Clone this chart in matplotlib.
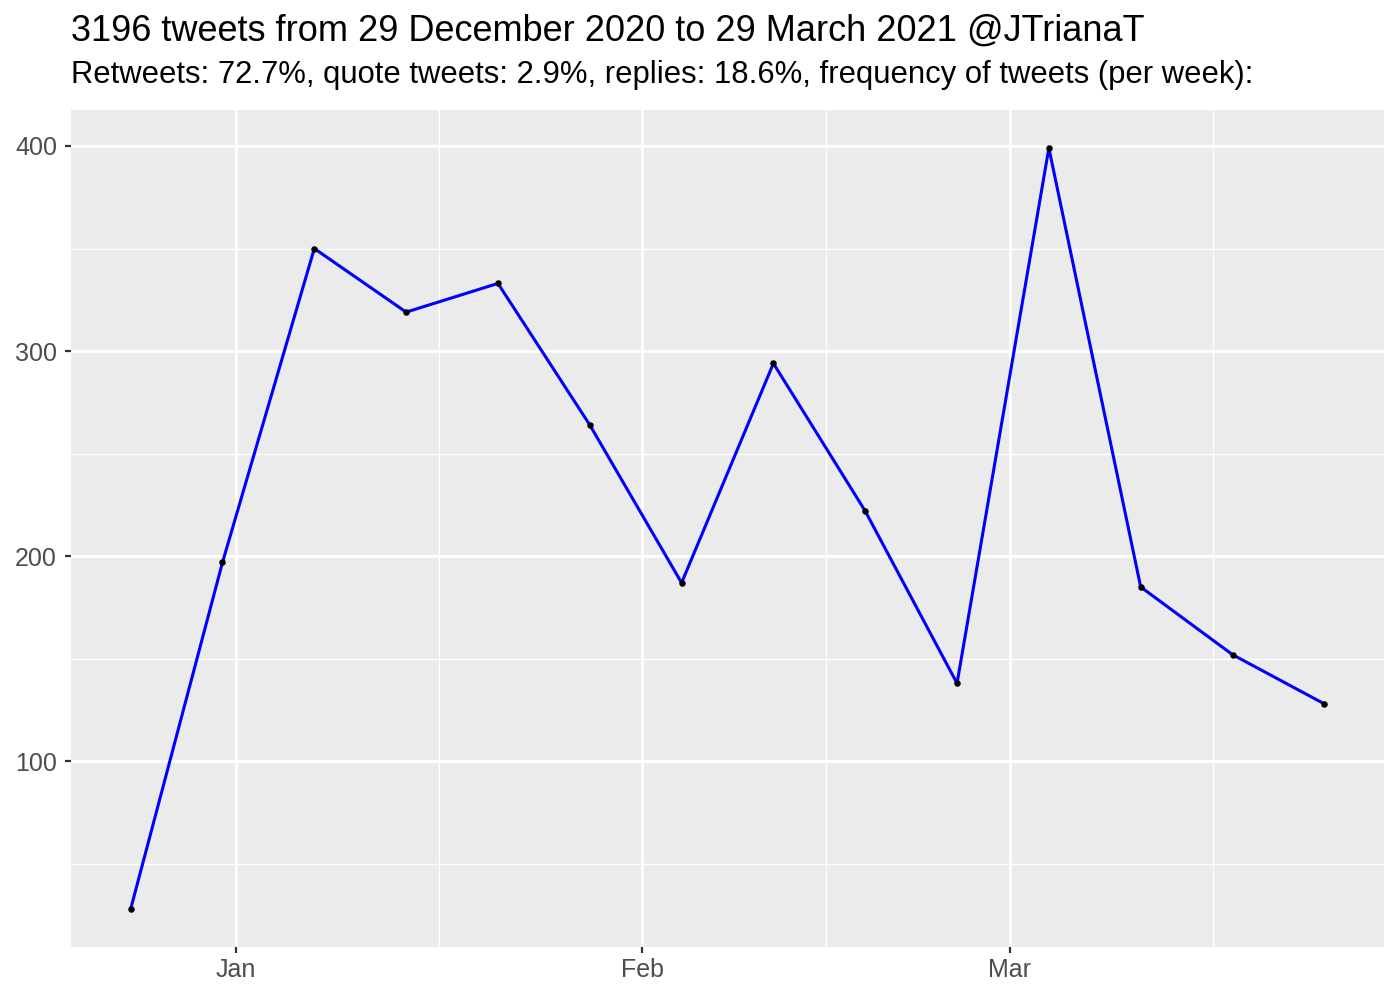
import numpy as np
import matplotlib
matplotlib.use('Agg')
import matplotlib.pyplot as plt
import matplotlib.dates as mdates

plt.rcParams['font.family'] = ['Liberation Sans', 'DejaVu Sans']

# weekly tweet counts
weeks = np.arange(np.datetime64('2020-12-24'), np.datetime64('2021-03-26'), np.timedelta64(7, 'D'))
counts = [28, 197, 350, 319, 333, 264, 187, 294, 222, 138, 399, 185, 152, 128]

title = '3196 tweets from 29 December 2020 to 29 March 2021 @JTrianaT'
subtitle = 'Retweets: 72.7%, quote tweets: 2.9%, replies: 18.6%, frequency of tweets (per week):'

W, H = 1400, 1000
fig = plt.figure(figsize=(14, 10), dpi=100)
left, right, top, bottom = 71, 1384, 110, 947
ax = fig.add_axes([left / W, 1 - bottom / H, (right - left) / W, (bottom - top) / H])

dates = weeks.astype('datetime64[D]').astype(object)
ax.plot(dates, counts, color='#0000ff', lw=2.2, zorder=3)
ax.scatter(dates, counts, s=22, color='black', zorder=4, linewidths=0)

ax.set_facecolor('#ebebeb')
for s in ax.spines.values():
    s.set_visible(False)

x0 = mdates.date2num(np.datetime64('2020-12-24'))
x1 = mdates.date2num(np.datetime64('2021-03-25'))
pad = (x1 - x0) * 0.05
ax.set_xlim(x0 - pad, x1 + pad)
ypad = (max(counts) - min(counts)) * 0.05
ax.set_ylim(min(counts) - ypad, max(counts) + ypad)

major = [np.datetime64('2021-01-01'), np.datetime64('2021-02-01'), np.datetime64('2021-03-01')]
ax.set_xticks([mdates.date2num(d) for d in major])
ax.set_xticklabels(['Jan', 'Feb', 'Mar'])
minor_x = [mdates.date2num(np.datetime64('2021-01-01')) + 15.5,
           mdates.date2num(np.datetime64('2021-02-01')) + 14,
           mdates.date2num(np.datetime64('2021-03-01')) + 15.5]
ax.set_xticks(minor_x, minor=True)
ax.set_yticks([100, 200, 300, 400])
ax.set_yticks([50, 150, 250, 350], minor=True)

ax.grid(which='major', color='white', lw=2.0)
ax.grid(which='minor', color='white', lw=1.0)
ax.set_axisbelow(True)
ax.tick_params(which='major', length=4.5, width=1.6, color='#333333', labelcolor='#4d4d4d',
               labelsize=18)
ax.tick_params(axis='x', pad=3.5)
ax.tick_params(axis='y', pad=5.5)
ax.tick_params(which='minor', length=0)

fig.text(left / W, 1 - 41 / H, title, fontsize=26, color='black', ha='left', va='baseline')
fig.text(left / W, 1 - 83 / H, subtitle, fontsize=22.3, color='black', ha='left', va='baseline')

fig.savefig('out.png', dpi=100, facecolor='white')
